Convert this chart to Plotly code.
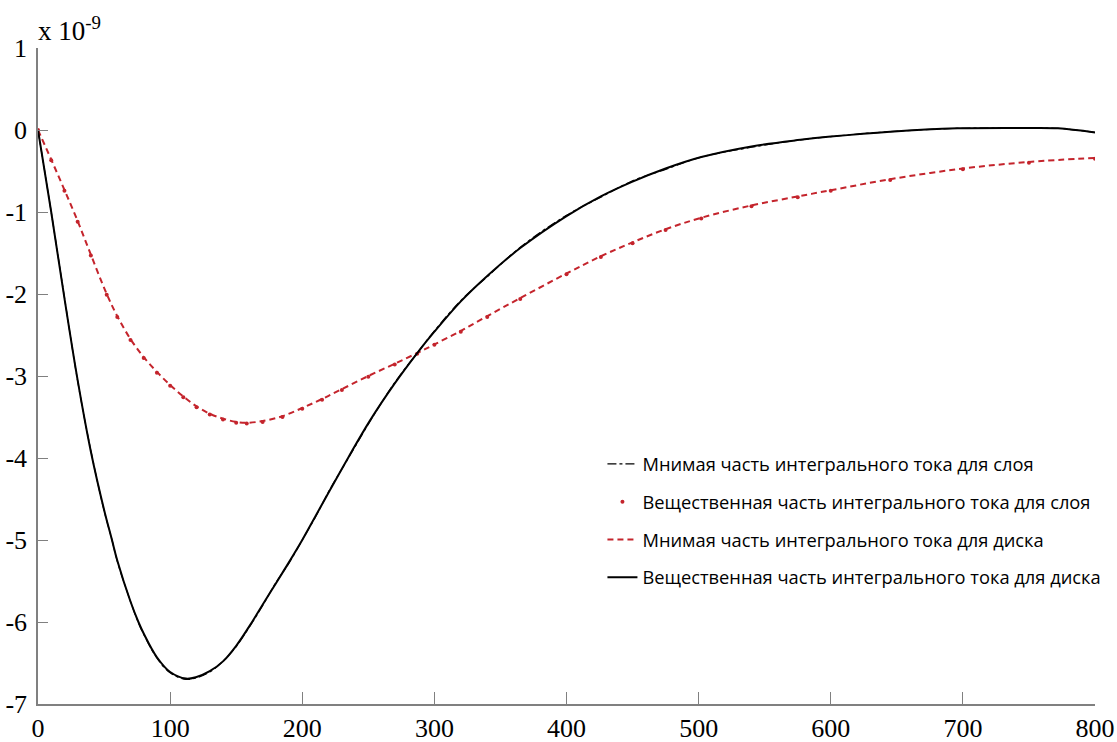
import plotly.graph_objects as go

# Black curve (disk, real part) and layer imaginary part
x_black = [0, 10, 20, 30, 40, 50, 56, 60, 70, 76, 80, 90, 100, 112, 120, 130, 140, 150, 162, 170, 180, 190, 200,
           210, 221, 235, 251, 270, 287, 300, 320, 340, 365, 400, 426, 450, 475, 502, 540, 577, 600, 645, 696,
           750, 772, 800]
y_disk_real = [0, -1.0, -2.05, -3.05, -3.92, -4.63, -5.0, -5.25, -5.75, -6.0, -6.14, -6.43, -6.61, -6.69, -6.67,
               -6.6, -6.48, -6.29, -6.0, -5.79, -5.53, -5.27, -5.0,
               -4.71, -4.39, -3.99, -3.55, -3.09, -2.72, -2.46, -2.09, -1.78, -1.44, -1.05, -0.81, -0.63, -0.47,
               -0.33, -0.2, -0.12, -0.08, -0.02, 0.02, 0.025, 0.02, -0.03]
y_layer_imag = [0, -1.0, -2.04, -3.06, -3.91, -4.64, -5.0, -5.26, -5.75, -6.01, -6.15, -6.44, -6.62, -6.7, -6.68,
                -6.61, -6.48, -6.3, -6.01, -5.8, -5.52, -5.28, -5.0,
                -4.72, -4.38, -4.0, -3.56, -3.08, -2.72, -2.45, -2.08, -1.79, -1.43, -1.04, -0.82, -0.62, -0.48,
                -0.33, -0.21, -0.12, -0.08, -0.02, 0.02, 0.02, 0.02, -0.03]

# Red curve (disk, imaginary part) and layer real part
x_red = [0, 10, 20, 30, 40, 52, 60, 70, 80, 90, 100, 110, 120, 130, 140, 150, 158, 170, 185, 200, 215, 230, 250,
         270, 287, 300, 320, 340, 365, 400, 426, 450, 475, 502, 540, 575, 600, 645, 700, 750, 800]
y_disk_imag = [0, -0.36, -0.73, -1.11, -1.52, -2.0, -2.27, -2.55, -2.77, -2.95, -3.11, -3.25, -3.37, -3.46,
               -3.52, -3.56, -3.57, -3.55, -3.49, -3.39, -3.28, -3.16, -3.0,
               -2.85, -2.72, -2.615, -2.45, -2.27, -2.05, -1.75, -1.54, -1.37, -1.21, -1.07, -0.92, -0.81, -0.735,
               -0.6, -0.47, -0.39, -0.34]
y_layer_real = [0, -0.37, -0.74, -1.12, -1.53, -2.01, -2.28, -2.56, -2.78, -2.96, -3.12, -3.26, -3.38, -3.47,
                -3.53, -3.57, -3.58, -3.56, -3.5, -3.4, -3.29, -3.17, -3.01,
                -2.86, -2.73, -2.62, -2.46, -2.28, -2.06, -1.76, -1.55, -1.38, -1.22, -1.08, -0.93, -0.82, -0.74,
                -0.61, -0.48, -0.4, -0.35]

names = [
    "Мнимая часть интегрального тока для слоя",
    "Вещественная часть интегрального тока для слоя",
    "Мнимая часть интегрального тока для диска",
    "Вещественная часть интегрального тока для диска",
]

x_ticks = [0, 100, 200, 300, 400, 500, 600, 700, 800]
y_ticks = [-7, -6, -5, -4, -3, -2, -1, 0, 1]

RED = "#c4242c"

fig = go.Figure()
fig.add_trace(go.Scatter(x=x_black, y=y_layer_imag, mode="lines", name=names[0], legendgroup="a",
                         line=dict(color="black", width=1.2, dash="dashdot", shape="spline")))
fig.add_trace(go.Scatter(x=x_red, y=y_layer_real, mode="markers", name=names[1], legendgroup="b",
                         marker=dict(color=RED, size=4)))
fig.add_trace(go.Scatter(x=x_red, y=y_disk_imag, mode="lines", name=names[2], legendgroup="c",
                         line=dict(color=RED, width=2, dash="6px,4px", shape="spline")))
fig.add_trace(go.Scatter(x=x_black, y=y_disk_real, mode="lines", name=names[3], legendgroup="d",
                         line=dict(color="black", width=2, shape="spline")))

fig.update_layout(
    width=1117, height=742,
    margin=dict(l=38, r=22, t=48, b=38, autoexpand=False),
    paper_bgcolor="white", plot_bgcolor="white",
    showlegend=True,
    legend=dict(x=0.534, y=0.394, xanchor="left", yanchor="top",
                bgcolor="rgba(0,0,0,0)", font=dict(family="Open Sans", size=18.3, color="black"),
                tracegroupgap=11, traceorder="grouped", itemwidth=30),
    font=dict(family="Liberation Serif", size=26, color="black"),
)
fig.update_xaxes(range=[0, 800], tickvals=x_ticks, ticktext=[str(v) for v in x_ticks],
                 showgrid=False, zeroline=False, showline=True, linecolor="#808080", linewidth=1.5,
                 ticks="inside", ticklen=12, tickcolor="#808080", tickwidth=1, automargin=False,
                 tickfont=dict(family="Liberation Serif", size=26, color="black"))
fig.update_yaxes(range=[-7, 1], tickvals=y_ticks, ticktext=[str(v) for v in y_ticks],
                 showgrid=False, zeroline=False, showline=True, linecolor="#808080", linewidth=1.5,
                 ticks="inside", ticklen=10, tickcolor="#808080", tickwidth=1, automargin=False,
                 ticklabelstandoff=4,
                 tickfont=dict(family="Liberation Serif", size=26, color="black"))

fig.add_annotation(xref="paper", yref="paper", x=0, y=1, xanchor="left", yanchor="bottom",
                   xshift=-2, yshift=0, showarrow=False, text="x 10<sup>-9</sup>",
                   font=dict(family="Liberation Serif", size=27, color="black"))

fig.write_html("out.html")
